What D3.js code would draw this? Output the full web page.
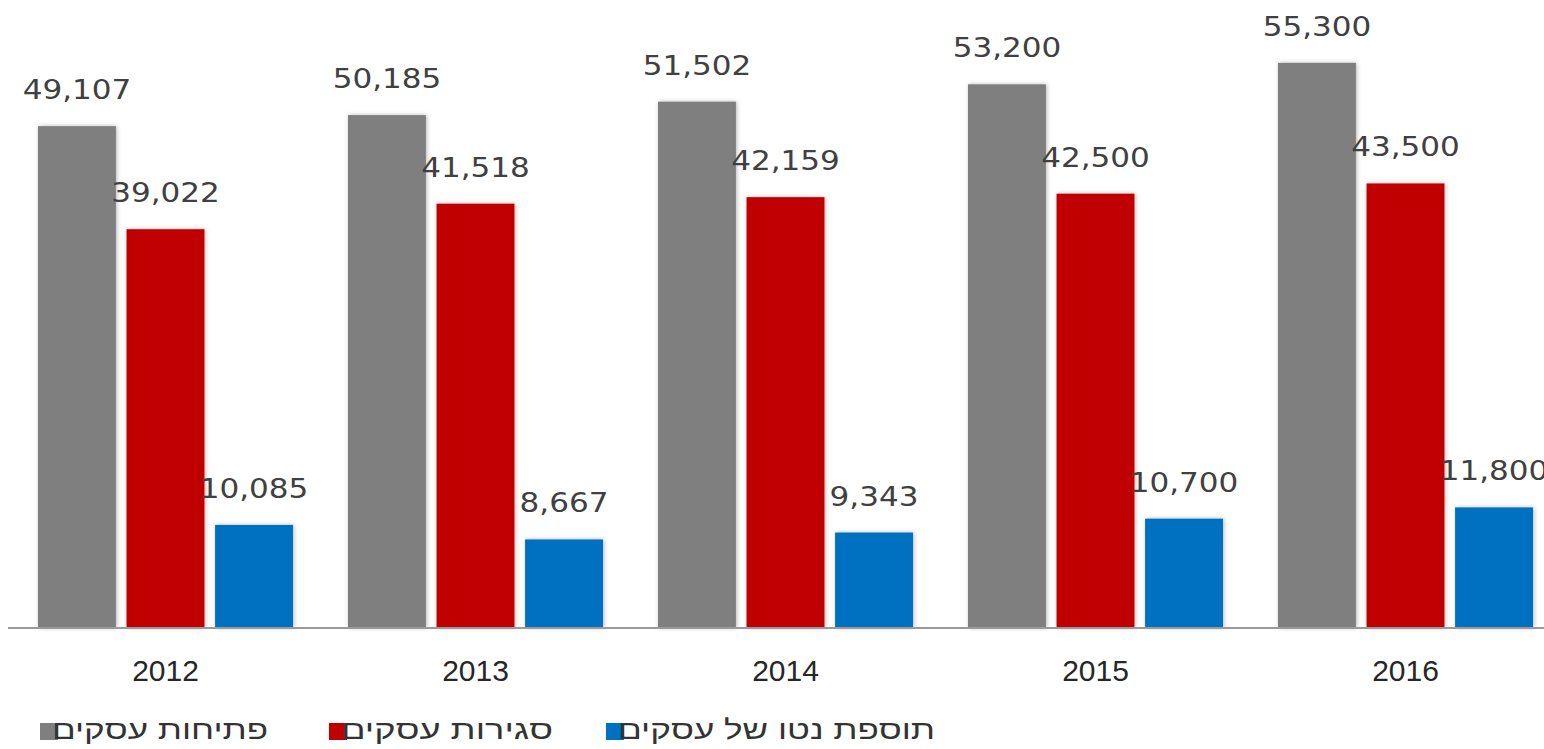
<!DOCTYPE html>
<html>
<head>
<meta charset="utf-8">
<script src="https://cdn.jsdelivr.net/npm/d3@7"></script>
<style>
  body { margin: 0; background: #fff; }
  svg { display: block; }
</style>
</head>
<body>
<svg id="chart" width="1544" height="749"></svg>
<script>
// Data
const years = ["2012", "2013", "2014", "2015", "2016"];
const openings = [49107, 50185, 51502, 53200, 55300];
const closures = [39022, 41518, 42159, 42500, 43500];
const netAdded = [10085, 8667, 9343, 10700, 11800];
const seriesNames = ["פתיחות עסקים", "סגירות עסקים", "תוספת נטו של עסקים"];
const seriesColors = ["#7f7f7f", "#c00000", "#0070c0"];

const series = [openings, closures, netAdded];

const svg = d3.select("#chart");
const baseY = 628;

// Scales
const x0 = d3.scaleBand().domain(years).range([10.5, 1560.5]).paddingInner(0).paddingOuter(0);
const x1 = d3.scaleBand().domain(d3.range(series.length)).range([27.5, 282.5]).paddingInner(0.12);
const y = d3.scaleLinear().domain([0, 61450]).range([baseY, 0]);

const fmt = d3.format(",");

// soft shadow like the Excel bars
const defs = svg.append("defs");
defs.append("filter")
    .attr("id", "shadow")
    .attr("x", "-20%").attr("y", "-5%").attr("width", "140%").attr("height", "110%")
    .append("feDropShadow")
    .attr("dx", 1).attr("dy", 0)
    .attr("stdDeviation", 2.2)
    .attr("flood-color", "#000")
    .attr("flood-opacity", 0.28);

// flatten to one record per bar
const bars = [];
years.forEach((yr, i) => {
    series.forEach((vals, s) => {
        bars.push({ year: yr, s: s, value: vals[i] });
    });
});

// Bars
svg.append("g").attr("class", "bars")
    .selectAll("rect")
    .data(bars)
    .enter().append("rect")
    .attr("x", d => x0(d.year) + x1(d.s))
    .attr("y", d => y(d.value))
    .attr("width", x1.bandwidth())
    .attr("height", d => y(0) - y(d.value))
    .attr("fill", d => seriesColors[d.s])
    .attr("filter", "url(#shadow)");

// Axis
const axis = svg.append("g")
    .attr("transform", `translate(0,${baseY})`)
    .call(d3.axisBottom(x0).tickSize(0).tickPadding(0));

axis.select(".domain")
    .attr("d", `M8,0H1544`)
    .attr("stroke", "#9a9a9a")
    .attr("stroke-width", 2);

axis.selectAll(".tick text")
    .attr("y", 53)
    .attr("dy", 0)
    .attr("font-family", "'Liberation Sans', Arial, sans-serif")
    .attr("font-size", 30)
    .attr("fill", "#262626");

// Value labels
svg.append("g").attr("class", "labels")
    .selectAll("text")
    .data(bars)
    .enter().append("text")
    .attr("transform", d => `translate(${x0(d.year) + x1(d.s) + x1.bandwidth() / 2},${y(d.value) - 27}) scale(1.15,1)`)
    .attr("text-anchor", "middle")
    .attr("font-family", "'DejaVu Sans', Verdana, sans-serif")
    .attr("font-size", 27)
    .attr("fill", "#404040")
    .text(d => fmt(d.value));

// Legend
const legendSquareX = [40, 329, 606];
const legendTextEnd = [268, 553, 935];
const legend = svg.append("g").attr("class", "legend");

seriesNames.forEach((name, i) => {
    legend.append("rect")
        .attr("x", legendSquareX[i])
        .attr("y", 723)
        .attr("width", 18)
        .attr("height", 17)
        .attr("fill", seriesColors[i]);

    legend.append("text")
        .attr("x", legendTextEnd[i])
        .attr("y", 739)
        .attr("text-anchor", "end")
        .attr("font-family", "'Liberation Sans', 'DejaVu Sans', Arial, sans-serif")
        .attr("font-size", 27)
        .attr("fill", "#333333")
        .attr("textLength", legendTextEnd[i] - legendSquareX[i] - 12)
        .attr("lengthAdjust", "spacingAndGlyphs")
        .text(name);
});
</script>
</body>
</html>
